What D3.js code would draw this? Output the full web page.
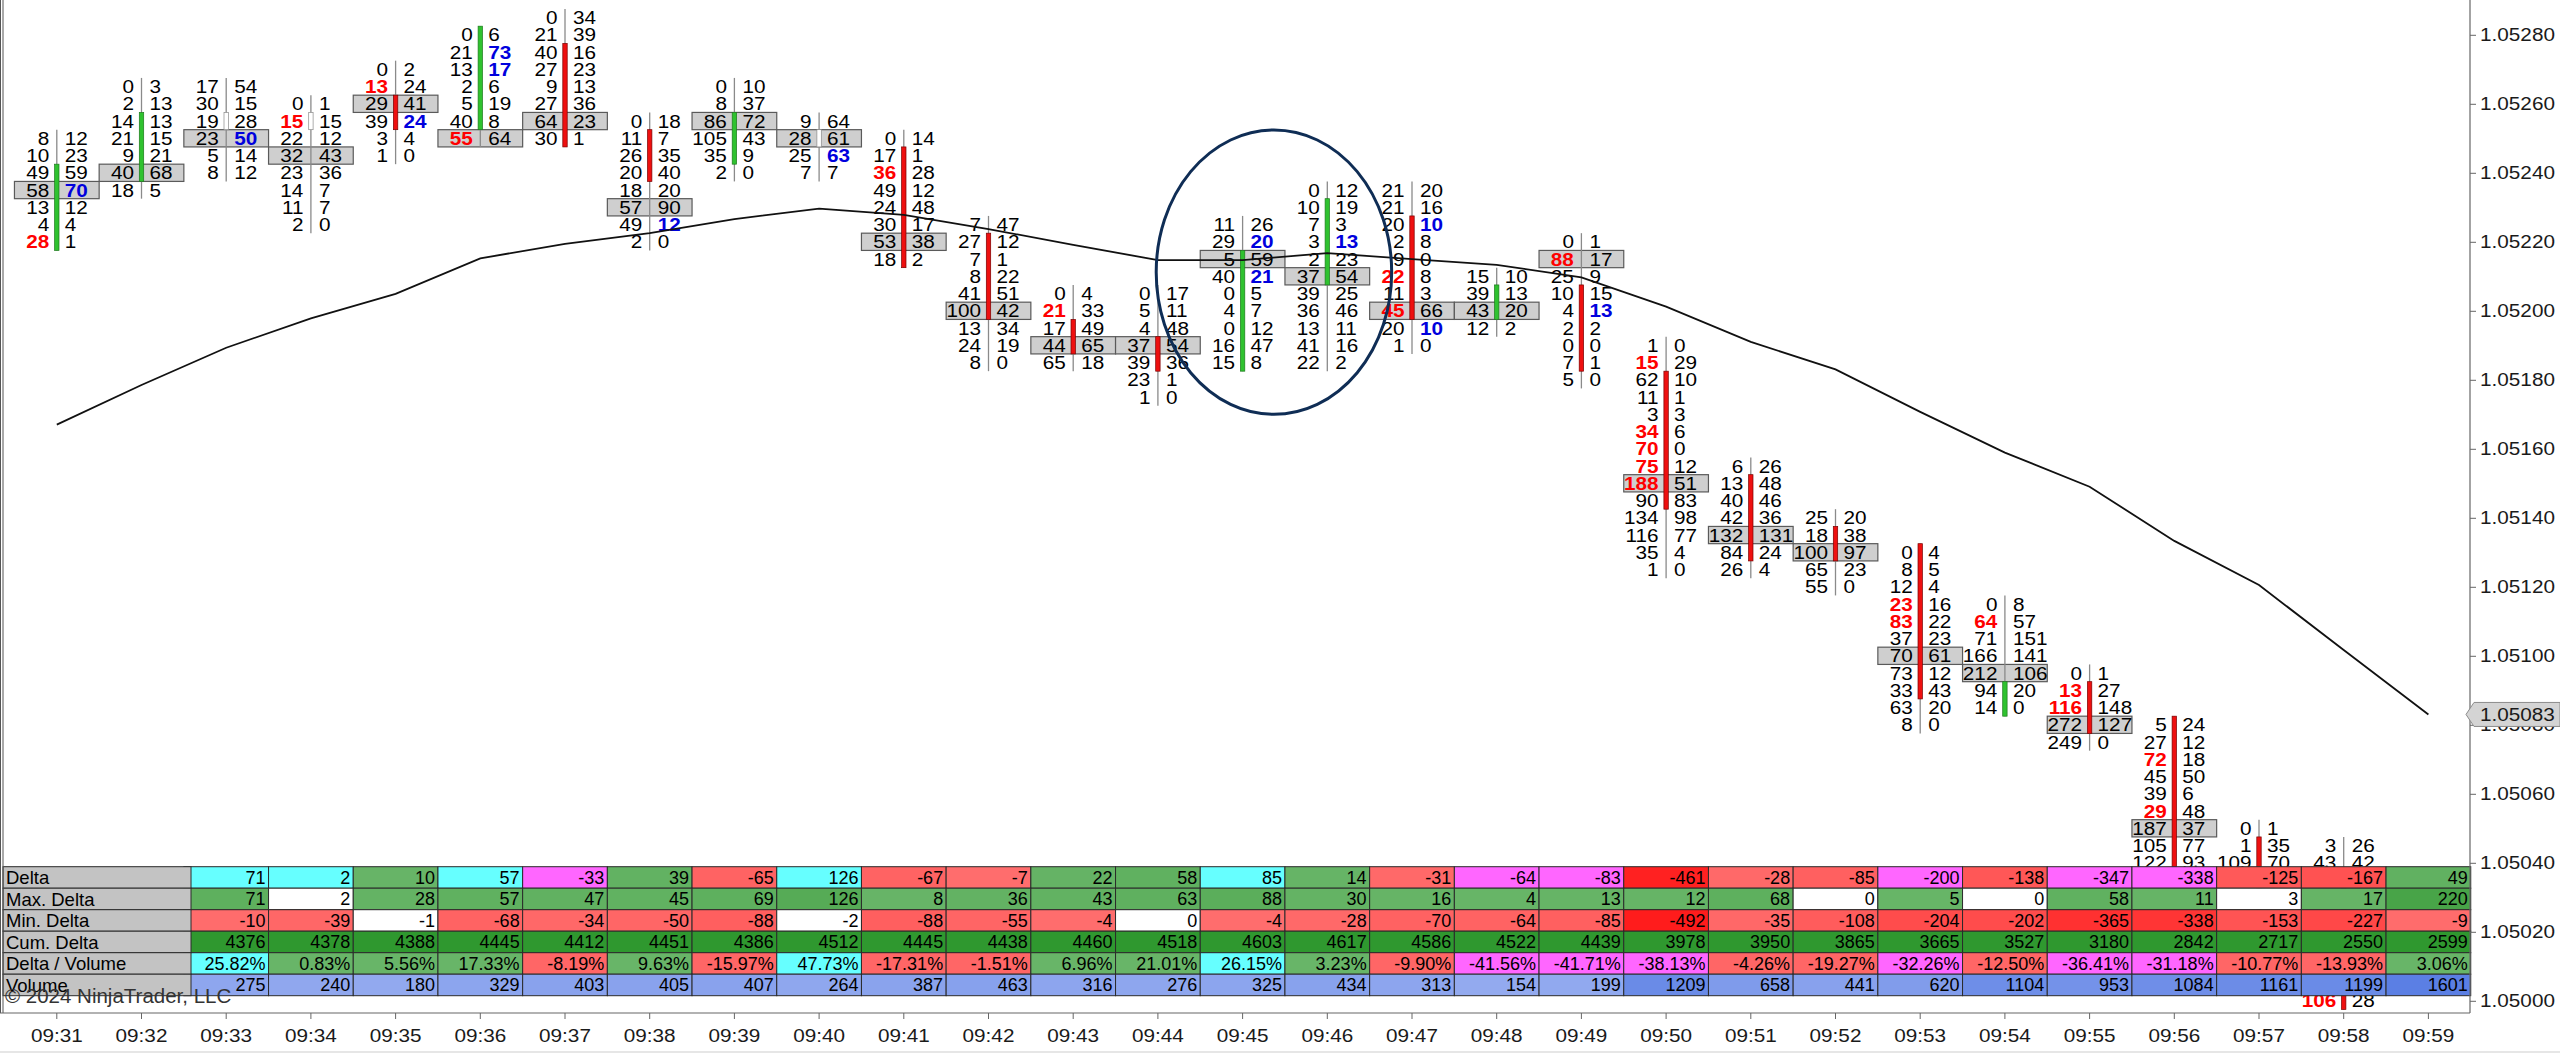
<!DOCTYPE html>
<html><head><meta charset="utf-8">
<script src="https://cdn.jsdelivr.net/npm/d3@7"></script>
<style>
html,body{margin:0;padding:0;background:#fff;overflow:hidden;}
svg{display:block;}
text{font-family:"Liberation Sans",Arial,Helvetica,sans-serif;}
</style></head><body>
<svg id="c" width="2560" height="1053"></svg>
<script>
// ---------------- DATA ----------------
const times = ["09:31","09:32","09:33","09:34","09:35","09:36","09:37","09:38","09:39","09:40",
  "09:41","09:42","09:43","09:44","09:45","09:46","09:47","09:48","09:49","09:50",
  "09:51","09:52","09:53","09:54","09:55","09:56","09:57","09:58","09:59"];
const tick = 0.00005;
const priceTicks = [1.05000,1.05020,1.05040,1.05060,1.05080,1.05100,1.05120,1.05140,
  1.05160,1.05180,1.05200,1.05220,1.05240,1.05260,1.05280];

// top price of each footprint column (rows go down one tick each)
const fpTop = [1.05250,1.05265,1.05265,1.05260,1.05270,1.05280,1.05285,1.05255,1.05265,1.05255,
  1.05250,1.05225,1.05205,1.05205,1.05225,1.05235,1.05235,1.05210,1.05220,1.05190,
  1.05155,1.05140,1.05130,1.05115,1.05095,1.05080,1.05050,1.05045,null];
// bid volume per row (top to bottom); null = hidden behind the table
const fpBid = [
 [8,10,49,58,13,4,28],
 [0,2,14,21,9,40,18],
 [17,30,19,23,5,8],
 [0,15,22,32,23,14,11,2],
 [0,13,29,39,3,1],
 [0,21,13,2,5,40,55],
 [0,21,40,27,9,27,64,30],
 [0,11,26,20,18,57,49,2],
 [0,8,86,105,35,2],
 [9,28,25,7],
 [0,17,36,49,24,30,53,18],
 [7,27,7,8,41,100,13,24,8],
 [0,21,17,44,65],
 [0,5,4,37,39,23,1],
 [11,29,5,40,0,4,0,16,15],
 [0,10,7,3,2,37,39,36,13,41,22],
 [21,21,20,2,9,22,11,45,20,1],
 [15,39,43,12],
 [0,88,25,10,4,2,0,7,5],
 [1,15,62,11,3,34,70,75,188,90,134,116,35,1],
 [6,13,40,42,132,84,26],
 [25,18,100,65,55],
 [0,8,12,23,83,37,70,73,33,63,8],
 [0,64,71,166,212,94,14],
 [0,13,116,272,249],
 [5,27,72,45,39,29,187,105,122],
 [0,1,109],
 [3,43,null,null,null,null,null,null,null,106],
 []
];
const fpAsk = [
 [12,23,59,70,12,4,1],
 [3,13,13,15,21,68,5],
 [54,15,28,50,14,12],
 [1,15,12,43,36,7,7,0],
 [2,24,41,24,4,0],
 [6,73,17,6,19,8,64],
 [34,39,16,23,13,36,23,1],
 [18,7,35,40,20,90,12,0],
 [10,37,72,43,9,0],
 [64,61,63,7],
 [14,1,28,12,48,17,38,2],
 [47,12,1,22,51,42,34,19,0],
 [4,33,49,65,18],
 [17,11,48,54,36,1,0],
 [26,20,59,21,5,7,12,47,8],
 [12,19,3,13,23,54,25,46,11,16,2],
 [20,16,10,8,0,8,3,66,10,0],
 [10,13,20,2],
 [1,17,9,15,13,2,0,1,0],
 [0,29,10,1,3,6,0,12,51,83,98,77,4,0],
 [26,48,46,36,131,24,4],
 [20,38,97,23,0],
 [4,5,4,16,22,23,61,12,43,20,0],
 [8,57,151,141,106,20,0],
 [1,27,148,127,0],
 [24,12,18,50,6,48,37,77,93],
 [1,35,70],
 [26,42,null,null,null,null,null,null,null,28],
 []
];
const pocPrice = [1.05235,1.05240,1.05250,1.05245,1.05260,1.05250,1.05255,1.05230,1.05255,1.05250,
  1.05220,1.05200,1.05190,1.05190,1.05215,1.05210,1.05200,1.05200,1.05215,1.05150,
  1.05135,1.05130,1.05100,1.05095,1.05080,1.05050,null,null,null];
// bid imbalance whose diagonal ask is hidden behind the table
const hiddenBidImbalance = [["09:58",1.05000]];

const opens  = [1.05220,1.05240,1.05255,1.05255,1.05260,1.05255,1.05275,1.05250,1.05245,1.05250,
  1.05245,1.05220,1.05195,1.05190,1.05185,1.05210,1.05225,1.05200,1.05205,1.05180,
  1.05150,1.05135,1.05130,1.05085,1.05090,1.05080,1.05045,1.05035,null];
const highs  = [1.05250,1.05265,1.05265,1.05260,1.05270,1.05280,1.05285,1.05255,1.05265,1.05255,
  1.05250,1.05225,1.05205,1.05205,1.05225,1.05235,1.05235,1.05210,1.05220,1.05190,
  1.05155,1.05140,1.05130,1.05115,1.05095,1.05080,1.05050,1.05045,null];
const lows   = [1.05220,1.05235,1.05240,1.05225,1.05245,1.05250,1.05250,1.05220,1.05240,1.05240,
  1.05215,1.05185,1.05185,1.05175,1.05185,1.05185,1.05190,1.05195,1.05180,1.05125,
  1.05125,1.05120,1.05080,1.05085,1.05075,1.05020,1.05015,1.05000,null];
const closes = [1.05240,1.05255,1.05255,1.05255,1.05255,1.05280,1.05250,1.05240,1.05255,1.05250,
  1.05215,1.05200,1.05190,1.05185,1.05215,1.05230,1.05200,1.05205,1.05185,1.05145,
  1.05130,1.05130,1.05090,1.05090,1.05080,1.05040,1.05020,1.05000,null];

const sma = [1.05167,1.051785,1.051893,1.051978,1.052049,1.052152,1.052194,1.052225,1.052266,1.052296,
  1.052278,1.052237,1.052191,1.052147,1.052147,1.052167,1.05215,1.052133,1.052097,1.052012,
  1.05191,1.05183,1.051707,1.051589,1.05149,1.051333,1.051205,1.051017,1.05083];

// table (columns 09:33 .. 09:59; 09:31-09:32 are under the label column)
const tableTimes = times.slice(2);
const deltaVals = [71,2,10,57,-33,39,-65,126,-67,-7,22,58,85,14,-31,-64,-83,-461,-28,-85,-200,-138,-347,-338,-125,-167,49];
const maxDeltaVals = [71,2,28,57,47,45,69,126,8,36,43,63,88,30,16,4,13,12,68,0,5,0,58,11,3,17,220];
const minDeltaVals = [-10,-39,-1,-68,-34,-50,-88,-2,-88,-55,-4,0,-4,-28,-70,-64,-85,-492,-35,-108,-204,-202,-365,-338,-153,-227,-9];
const cumDeltaVals = [4376,4378,4388,4445,4412,4451,4386,4512,4445,4438,4460,4518,4603,4617,4586,4522,4439,3978,3950,3865,3665,3527,3180,2842,2717,2550,2599];
const deltaVolVals = [25.82,0.83,5.56,17.33,-8.19,9.63,-15.97,47.73,-17.31,-1.51,6.96,21.01,26.15,3.23,-9.90,-41.56,-41.71,-38.13,-4.26,-19.27,-32.26,-12.50,-36.41,-31.18,-10.77,-13.93,3.06];
const volumeVals = [275,240,180,329,403,405,407,264,387,463,316,276,325,434,313,154,199,1209,658,441,620,1104,953,1084,1161,1199,1601];
const rowLabels = ["Delta","Max. Delta","Min. Delta","Cum. Delta","Delta / Volume","Volume"];

// ---------------- CHART ----------------
const svg = d3.select("#c");
const plotRight = 2470, axisY = 1013;
const x = d3.scaleBand().domain(times).range([14.45, 2470.75]).padding(0);
const bw = x.bandwidth();
const cx = t => x(t) + bw / 2;
const y = d3.scaleLinear().domain([1.05000, 1.05280]).range([1000.8, 34.8]);
const rowH = y(1.05000) - y(1.05000 + tick);
const key = p => Math.round(p / tick);

svg.append("rect").attr("width", 2560).attr("height", 1053).attr("fill", "#fff");
svg.append("defs").append("clipPath").attr("id", "plot")
  .append("rect").attr("x", 0).attr("y", 0).attr("width", plotRight).attr("height", axisY);

const gP = svg.append("g").attr("clip-path", "url(#plot)");

// build cells
const cells = [];
times.forEach((t, i) => {
  const bids = fpBid[i], asks = fpAsk[i];
  bids.forEach((b, j) => {
    if (b === null) return;
    const a = asks[j];
    const price = fpTop[i] - j * tick;
    let bidImb = false, askImb = false;
    if (j > 0 && asks[j - 1] !== null && b >= 10 && b >= 4 * asks[j - 1]) bidImb = true;
    if (j < bids.length - 1 && bids[j + 1] !== null && a >= 10 && a >= 4 * bids[j + 1]) askImb = true;
    if (hiddenBidImbalance.some(h => h[0] === t && key(h[1]) === key(price))) bidImb = true;
    cells.push({t, i, price, bid: b, ask: a, bidImb, askImb,
      poc: pocPrice[i] !== null && key(pocPrice[i]) === key(price)});
  });
});

// POC boxes
gP.selectAll("rect.poc").data(cells.filter(c => c.poc)).join("rect")
  .attr("class", "poc")
  .attr("x", d => x(d.t)).attr("y", d => y(d.price) - rowH / 2)
  .attr("width", bw).attr("height", rowH)
  .attr("fill", "#cfcfcf").attr("stroke", "#5a5a5a").attr("stroke-width", 1.2);

// wicks
const bars = times.map((t, i) => ({t, o: opens[i], h: highs[i], l: lows[i], c: closes[i]})).filter(d => d.o !== null);
gP.selectAll("line.wick").data(bars).join("line")
  .attr("x1", d => cx(d.t)).attr("x2", d => cx(d.t))
  .attr("y1", d => y(d.h) - rowH / 2).attr("y2", d => y(d.l) + rowH / 2)
  .attr("stroke", "#8a8a8a").attr("stroke-width", 1.3);

// bodies
gP.selectAll("rect.body").data(bars).join("rect")
  .attr("x", d => cx(d.t) - 2.2).attr("width", 4.4)
  .attr("y", d => y(Math.max(d.o, d.c)) - rowH / 2)
  .attr("height", d => y(Math.min(d.o, d.c)) - y(Math.max(d.o, d.c)) + rowH)
  .attr("fill", d => d.c > d.o ? "#2fc22f" : d.c < d.o ? "#ee1010" : "#ffffff")
  .attr("stroke", d => d.c > d.o ? "#1d7a1d" : d.c < d.o ? "#7a0000" : "#8a8a8a")
  .attr("stroke-width", 0.7);

// texts
const fs = 18.5, sx = 1.12;
gP.selectAll("text.bid").data(cells).join("text")
  .attr("transform", d => `translate(${cx(d.t) - 7.5},${y(d.price)}) scale(${sx},1)`)
  .attr("dy", "0.36em").attr("text-anchor", "end")
  .attr("font-size", fs).attr("font-weight", d => d.bidImb ? "bold" : "normal")
  .attr("fill", d => d.bidImb ? "#ff0000" : "#000")
  .text(d => d.bid);
gP.selectAll("text.ask").data(cells).join("text")
  .attr("transform", d => `translate(${cx(d.t) + 8},${y(d.price)}) scale(${sx},1)`)
  .attr("dy", "0.36em").attr("text-anchor", "start")
  .attr("font-size", fs).attr("font-weight", d => d.askImb ? "bold" : "normal")
  .attr("fill", d => d.askImb ? "#0000dd" : "#000")
  .text(d => d.ask);

// SMA line
const smaPts = times.map((t, i) => ({t, v: sma[i]}));
gP.append("path").datum(smaPts)
  .attr("d", d3.line().x(d => cx(d.t)).y(d => y(d.v)))
  .attr("fill", "none").attr("stroke", "#111").attr("stroke-width", 1.8);

// annotation ellipse (around 09:45-09:46)
gP.append("ellipse")
  .attr("cx", cx("09:45") + 0.37 * bw).attr("cy", y(1.052112))
  .attr("rx", 1.39 * bw).attr("ry", y(1.05170) - y(1.052112))
  .attr("fill", "none").attr("stroke", "#0f2d55").attr("stroke-width", 3);

// ---------------- TABLE ----------------
const tTop = 866.7, tRowH = 21.5;
const greenScale = d3.scaleLinear().domain([0, 220]).range(["#68b568", "#48a448"]).clamp(true);
const redScale = d3.scaleLinear().domain([0, 490]).range(["#ff6e6e", "#ff1c1c"]).clamp(true);
const volScale = d3.scaleLinear().domain([150, 1600]).range(["#93aaef", "#5b7fe4"]).clamp(true);
const tbl = [
  {vals: deltaVals, fmt: d => d, tone: (d, k) => {
      if (d > 0) return d >= 0.95 * maxDeltaVals[k] ? "#66ffff" : greenScale(d);
      if (d < 0) return d <= 0.95 * minDeltaVals[k] ? "#ff66ff" : redScale(-d);
      return "#fff"; }},
  {vals: maxDeltaVals, fmt: d => d, tone: d => Math.abs(d) <= 3 ? "#ffffff" : greenScale(d)},
  {vals: minDeltaVals, fmt: d => d, tone: d => Math.abs(d) <= 3 ? "#ffffff" : redScale(-d)},
  {vals: cumDeltaVals, fmt: d => d, tone: d => d >= 0 ? "#2f982f" : "#c02020"},
  {vals: deltaVolVals, fmt: d => d.toFixed(2) + "%", tone: d =>
      d >= 25 ? "#66ffff" : d <= -25 ? "#ff66ff" : d > 0 ? "#68b568" : "#ff6666"},
  {vals: volumeVals, fmt: d => d, tone: d => volScale(d)}
];
const gT = svg.append("g");
tbl.forEach((row, r) => {
  const ry = tTop + r * tRowH;
  const data = tableTimes.map((t, k) => ({t, v: row.vals[k], k}));
  gT.selectAll(null).data(data).join("rect")
    .attr("x", d => x(d.t)).attr("y", ry).attr("width", bw).attr("height", tRowH)
    .attr("fill", d => row.tone(d.v, d.k)).attr("stroke", "#2a2a2a").attr("stroke-width", 1);
  gT.selectAll(null).data(data).join("text")
    .attr("x", d => x(d.t) + bw - 3).attr("y", ry + tRowH / 2).attr("dy", "0.36em")
    .attr("text-anchor", "end").attr("font-size", 18).attr("fill", "#000")
    .text(d => row.fmt(d.v));
});
// label column
rowLabels.forEach((lab, r) => {
  const ry = tTop + r * tRowH;
  gT.append("rect").attr("x", 3).attr("y", ry).attr("width", 188).attr("height", tRowH)
    .attr("fill", "#c3c3c3").attr("stroke", "#2a2a2a").attr("stroke-width", 1);
  gT.append("text").attr("x", 6).attr("y", ry + tRowH / 2).attr("dy", "0.36em")
    .attr("font-size", 18.5).attr("fill", "#000").text(lab);
});
svg.append("text").attr("x", 5).attr("y", 1003).attr("font-size", 20.5).attr("fill", "#333")
  .text("© 2024 NinjaTrader, LLC");

// ---------------- AXES ----------------
// frame lines
svg.append("line").attr("x1", 0.5).attr("x2", 0.5).attr("y1", 0).attr("y2", axisY).attr("stroke", "#555");
svg.append("line").attr("x1", 3).attr("x2", 3).attr("y1", 0).attr("y2", axisY).attr("stroke", "#555");
svg.append("line").attr("x1", 0).attr("x2", plotRight).attr("y1", axisY).attr("y2", axisY).attr("stroke", "#666").attr("stroke-width", 1.2);
svg.append("line").attr("x1", plotRight).attr("x2", plotRight).attr("y1", 0).attr("y2", axisY).attr("stroke", "#666").attr("stroke-width", 1.2);

const yAxis = d3.axisRight(y).tickValues(priceTicks).tickFormat(d3.format(".5f")).tickSize(6).tickPadding(3);
const gy = svg.append("g").attr("transform", `translate(${plotRight},0)`).call(yAxis);
gy.select(".domain").remove();
gy.selectAll(".tick line").attr("stroke", "#666");
gy.selectAll(".tick text").attr("font-size", fs).attr("fill", "#1a1a1a")
  .attr("font-family", "'Liberation Sans',Arial,sans-serif")
  .attr("x", 9).attr("transform", `scale(${sx},1)`);

const xAxis = d3.axisBottom(x).tickSize(6);
const gx = svg.append("g").attr("transform", `translate(0,${axisY})`).call(xAxis);
gx.select(".domain").remove();
gx.selectAll(".tick line").attr("stroke", "#666");
gx.selectAll(".tick text").attr("font-size", fs).attr("fill", "#1a1a1a")
  .attr("font-family", "'Liberation Sans',Arial,sans-serif")
  .attr("y", 15.5).attr("transform", `scale(${sx},1)`);

// last value marker of the SMA
const last = sma[sma.length - 1], ly = y(last);
svg.append("path")
  .attr("d", `M${plotRight - 4},${ly} L${plotRight + 4},${ly - 12} L2560,${ly - 12} L2560,${ly + 12} L${plotRight + 4},${ly + 12} Z`)
  .attr("fill", "#d4d4d4").attr("stroke", "#8c8c8c").attr("stroke-width", 1);
svg.append("text").attr("transform", `translate(${plotRight + 10},${ly}) scale(${sx},1)`)
  .attr("dy", "0.36em").attr("font-size", fs).attr("fill", "#1a1a1a")
  .text(d3.format(".5f")(last));

// bottom strip
svg.append("rect").attr("x", 0).attr("y", 1051).attr("width", 2560).attr("height", 2).attr("fill", "#e6e6e6");
</script>
</body></html>
